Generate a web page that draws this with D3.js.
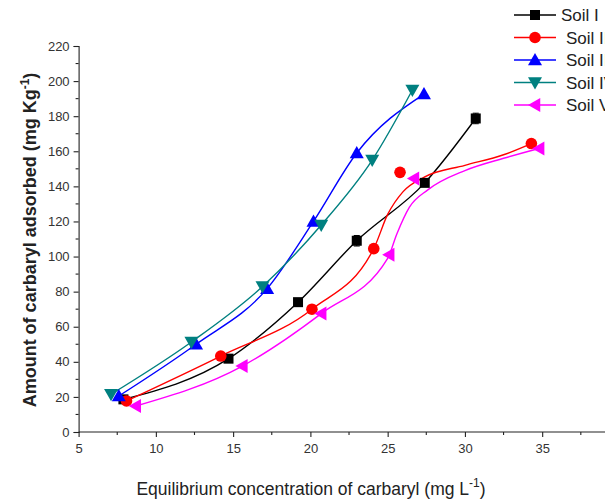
<!DOCTYPE html>
<html><head><meta charset="utf-8">
<script src="https://cdn.jsdelivr.net/npm/d3@7"></script>
<style>
html,body{margin:0;padding:0;background:#fff;overflow:hidden;}
svg{display:block;font-family:"Liberation Sans",Arial,sans-serif;}
</style></head>
<body>
<svg id="chart" width="605" height="503"></svg>
<script>
// ---- data ----
const seriesNames = ["Soil I", "Soil II", "Soil III", "Soil IV", "Soil V"];
const seriesColors = ["#000000", "#ff0000", "#0000ff", "#008080", "#ff00ff"];

const soil1X = [7.9, 14.7, 19.2, 23.0, 27.4, 30.7];
const soil1Y = [18.6, 41.8, 74.0, 109.0, 142.0, 178.7];
const soil1Err = [0, 0, 0, 3, 0, 3];

const soil2X = [8.1, 14.2, 20.1, 24.1, 25.8, 34.3];
const soil2Y = [17.7, 43.3, 70.0, 104.5, 148.0, 164.4];
// fitted curve drawn through/near the Soil II points
const soil2CurveX = [8.1, 14.2, 20.1, 24.1, 25.0, 26.0, 27.4, 30.0, 32.5, 34.3];
const soil2CurveY = [17.7, 43.3, 70.0, 104.5, 124.0, 137.0, 145.4, 152.0, 158.0, 164.4];

const soil3X = [7.6, 12.6, 17.2, 20.2, 23.0, 27.35];
const soil3Y = [20.5, 50.0, 81.7, 120.0, 159.0, 192.6];

const soil4X = [7.1, 12.3, 16.9, 20.7, 24.0, 26.6];
const soil4Y = [21.5, 51.3, 82.9, 118.0, 155.0, 194.9];

const soil5X = [8.7, 15.6, 20.7, 25.1, 26.7, 34.8];
const soil5Y = [14.8, 37.6, 67.5, 101.0, 144.5, 161.6];
// fitted curve for Soil V
const soil5CurveX = [8.7, 15.6, 20.7, 25.0, 25.6, 26.4, 27.6, 30.0, 32.5, 34.8];
const soil5CurveY = [14.8, 37.6, 67.5, 99.0, 113.0, 128.0, 138.0, 149.0, 156.0, 161.6];

const xTickValues = [5, 10, 15, 20, 25, 30, 35];
const xMinorTicks = [7.5, 12.5, 17.5, 22.5, 27.5, 32.5, 37.5];
const yTickValues = [0, 20, 40, 60, 80, 100, 120, 140, 160, 180, 200, 220];
const yMinorTicks = [10, 30, 50, 70, 90, 110, 130, 150, 170, 190, 210];

const xTitle = "Equilibrium concentration of carbaryl  (mg L";
const yTitle = "Amount of carbaryl adsorbed (mg Kg";

// ---- build ----
const svg = d3.select("#chart");
const x = d3.scaleLinear().domain([5, 39]).range([78.6, 604]);
const y = d3.scaleLinear().domain([0, 220]).range([432, 46]);

const zip = (xs, ys) => xs.map((v, i) => ({x: v, y: ys[i]}));
const series = [
  {pts: zip(soil1X, soil1Y), curve: zip(soil1X, soil1Y), err: soil1Err, sym: "square"},
  {pts: zip(soil2X, soil2Y), curve: zip(soil2CurveX, soil2CurveY), err: null, sym: "circle"},
  {pts: zip(soil3X, soil3Y), curve: zip(soil3X, soil3Y), err: null, sym: "up"},
  {pts: zip(soil4X, soil4Y), curve: zip(soil4X, soil4Y), err: null, sym: "down"},
  {pts: zip(soil5X, soil5Y), curve: zip(soil5CurveX, soil5CurveY), err: null, sym: "left"}
];

// axes
const axisColor = "#222";
const xAxis = d3.axisBottom(x).tickValues(xTickValues).tickSize(5).tickPadding(4).tickFormat(d3.format("d"));
const gx = svg.append("g").attr("transform", `translate(0,${y(0)})`).call(xAxis);
gx.select(".domain").attr("d", `M${x(5)},0H605`);
gx.selectAll("g.minor").data(xMinorTicks).enter().append("line")
  .attr("x1", d => x(d)).attr("x2", d => x(d)).attr("y1", 0).attr("y2", 3);

const yAxis = d3.axisLeft(y).tickValues(yTickValues).tickSize(5).tickPadding(4).tickFormat(d3.format("d"));
const gy = svg.append("g").attr("transform", `translate(${x(5)},0)`).call(yAxis);
gy.selectAll("g.minor").data(yMinorTicks).enter().append("line")
  .attr("y1", d => y(d)).attr("y2", d => y(d)).attr("x1", 0).attr("x2", -3);

[gx, gy].forEach(g => {
  g.selectAll("path,line").attr("stroke", axisColor).attr("stroke-width", 1.1);
  g.selectAll("text").attr("fill", "#333").attr("font-size", 13)
   .attr("font-family", '"Liberation Sans",Arial,sans-serif');
});
gx.selectAll(".tick text").attr("dy", "0.9em");

// axis titles
const xt = svg.append("text").attr("x", 311).attr("y", 495).attr("text-anchor", "middle")
  .attr("font-size", 17.5).attr("fill", "#222").text(xTitle);
xt.append("tspan").attr("dy", -8).attr("font-size", 12).text("-1");
xt.append("tspan").attr("dy", 8).text(")");

const yt = svg.append("text").attr("transform", "translate(36,240) rotate(-90)")
  .attr("text-anchor", "middle").attr("font-size", 18).attr("font-weight", "bold").attr("fill", "#222").text(yTitle);
yt.append("tspan").attr("dy", -7).attr("font-size", 12).text("-1");
yt.append("tspan").attr("dy", 7).text(")");

// curves
const lineCurve = d3.line().x(d => x(d.x)).y(d => y(d.y)).curve(d3.curveMonotoneX);
series.forEach((s, i) => {
  svg.append("path").datum(s.curve).attr("d", lineCurve)
    .attr("fill", "none").attr("stroke", seriesColors[i]).attr("stroke-width", 1.4);
});

// error bars
series.forEach((s, i) => {
  if (!s.err) return;
  s.pts.forEach((p, j) => {
    const e = s.err[j];
    if (!e) return;
    const g = svg.append("g").attr("stroke", seriesColors[i]).attr("stroke-width", 1);
    g.append("line").attr("x1", x(p.x)).attr("x2", x(p.x)).attr("y1", y(p.y - e)).attr("y2", y(p.y + e));
    g.append("line").attr("x1", x(p.x) - 3).attr("x2", x(p.x) + 3).attr("y1", y(p.y + e)).attr("y2", y(p.y + e));
    g.append("line").attr("x1", x(p.x) - 3).attr("x2", x(p.x) + 3).attr("y1", y(p.y - e)).attr("y2", y(p.y - e));
  });
});

// markers
function drawMarker(g, sym, cx, cy, color) {
  if (sym === "square") {
    g.append("rect").attr("x", cx - 5).attr("y", cy - 5).attr("width", 10).attr("height", 10).attr("fill", color);
  } else if (sym === "circle") {
    g.append("circle").attr("cx", cx).attr("cy", cy).attr("r", 5.8).attr("fill", color);
  } else {
    const r = 7;
    let pts;
    if (sym === "up") pts = [[cx, cy - r], [cx - r, cy + r * 0.75], [cx + r, cy + r * 0.75]];
    else if (sym === "down") pts = [[cx, cy + r], [cx - r, cy - r * 0.75], [cx + r, cy - r * 0.75]];
    else pts = [[cx - r, cy], [cx + r * 0.75, cy - r], [cx + r * 0.75, cy + r]];
    g.append("polygon").attr("points", pts.map(p => p.join(",")).join(" ")).attr("fill", color);
  }
}
series.forEach((s, i) => {
  const g = svg.append("g");
  s.pts.forEach(p => drawMarker(g, s.sym, x(p.x), y(p.y), seriesColors[i]));
});

// legend
const legendY = [15, 37.5, 60, 82.5, 105];
const legendTextX = [561, 566, 566, 566, 566];
seriesNames.forEach((name, i) => {
  const g = svg.append("g");
  g.append("line").attr("x1", 514).attr("x2", 556).attr("y1", legendY[i]).attr("y2", legendY[i])
    .attr("stroke", seriesColors[i]).attr("stroke-width", 1.4);
  drawMarker(g, series[i].sym, 535, legendY[i], seriesColors[i]);
  g.append("text").attr("x", legendTextX[i]).attr("y", legendY[i]).attr("dy", "0.36em")
    .attr("font-size", 17).attr("fill", "#222").text(name);
});
</script>
</body></html>
